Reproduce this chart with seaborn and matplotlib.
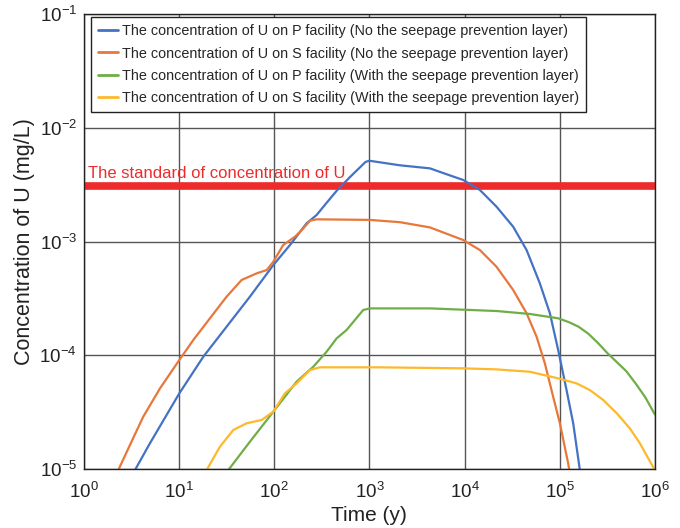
import numpy as np
import pandas as pd
import seaborn as sns
import matplotlib.pyplot as plt
from matplotlib.ticker import LogLocator, LogFormatterMathtext, NullLocator

# values, as log10(time in y) and log10(concentration in mg/L)
p_no_logt = [0.45, 0.536, 0.693, 1.002, 1.254, 1.499, 1.744, 1.990, 2.165, 2.340, 2.445, 2.55, 2.66,
             2.80, 2.96, 3.00, 3.32, 3.636, 3.85, 3.986, 4.161, 4.336, 4.511, 4.652, 4.791, 4.897,
             4.984, 5.072, 5.142, 5.212, 5.25]
p_no_logc = [-5.16, -5.009, -4.774, -4.335, -4.013, -3.749, -3.485, -3.207, -3.031, -2.840, -2.767, -2.66, -2.55,
             -2.43, -2.30, -2.29, -2.33, -2.357, -2.42, -2.459, -2.547, -2.694, -2.870, -3.075, -3.367, -3.631,
             -3.954, -4.306, -4.598, -5.009, -5.25]

s_no_logt = [0.30, 0.361, 0.483, 0.623, 0.799, 1.002, 1.149, 1.324, 1.499, 1.657, 1.815, 1.920, 1.990,
             2.094, 2.217, 2.30, 2.375, 2.445, 3.00, 3.32, 3.636, 3.986, 4.161, 4.336, 4.511, 4.652,
             4.757, 4.844, 4.931, 5.002, 5.089, 5.13]
s_no_logc = [-5.11, -5.009, -4.789, -4.540, -4.291, -4.042, -3.866, -3.675, -3.485, -3.338, -3.280, -3.251, -3.178,
             -3.031, -2.958, -2.89, -2.817, -2.805, -2.81, -2.83, -2.876, -2.987, -3.075, -3.222, -3.426, -3.631,
             -3.837, -4.071, -4.364, -4.598, -4.951, -5.15]

p_with_logt = [1.45, 1.517, 1.744, 1.990, 2.235, 2.410, 2.550, 2.655, 2.760, 2.935, 3.005,
               3.636, 4.336, 4.686, 4.984, 5.10, 5.20, 5.30, 5.40, 5.50, 5.60, 5.70, 5.80, 5.90, 6.00]
p_with_logc = [-5.10, -5.009, -4.760, -4.496, -4.232, -4.101, -3.969, -3.852, -3.778, -3.602, -3.588,
               -3.588, -3.611, -3.637, -3.675, -3.71, -3.75, -3.81, -3.89, -3.98, -4.06, -4.14, -4.25, -4.37, -4.52]

s_with_logt = [1.20, 1.289, 1.429, 1.569, 1.709, 1.867, 1.990, 2.112, 2.235, 2.375, 2.480,
               3.11, 3.986, 4.336, 4.686, 4.984, 5.177, 5.317, 5.457, 5.60, 5.737, 5.84, 5.98, 6.02]
s_with_logc = [-5.12, -5.009, -4.804, -4.657, -4.598, -4.569, -4.496, -4.335, -4.247, -4.130, -4.106,
               -4.106, -4.115, -4.124, -4.145, -4.203, -4.247, -4.306, -4.393, -4.51, -4.643, -4.77, -4.98, -5.05]

standard_u = 3.08e-3

labels = [
    'The concentration of U on P facility (No the seepage prevention layer)',
    'The concentration of U on S facility (No the seepage prevention layer)',
    'The concentration of U on P facility (With the seepage prevention layer)',
    'The concentration of U on S facility (With the seepage prevention layer)',
]
colors = ['#4472C4', '#E8773A', '#70AD47', '#FDB92C']

frames = []
for lab, lt, lc in zip(labels,
                       [p_no_logt, s_no_logt, p_with_logt, s_with_logt],
                       [p_no_logc, s_no_logc, p_with_logc, s_with_logc]):
    frames.append(pd.DataFrame({'Time': 10 ** np.array(lt),
                                'Conc': 10 ** np.array(lc),
                                'Series': lab}))
df = pd.concat(frames, ignore_index=True)

sns.set_style('white')
plt.rcParams['font.family'] = ['Liberation Sans', 'DejaVu Sans']
plt.rcParams['mathtext.fontset'] = 'custom'
plt.rcParams['mathtext.rm'] = 'Liberation Sans'
plt.rcParams['mathtext.it'] = 'Liberation Sans:italic'

fig = plt.figure(figsize=(6.8, 5.28), dpi=100)
ax = fig.add_axes([0.1235, 0.1117, 0.8395, 0.8618])

ax.set_xscale('log')
ax.set_yscale('log')

sns.lineplot(data=df, x='Time', y='Conc', hue='Series', hue_order=labels,
             palette=colors, sort=False, estimator=None, linewidth=1.6, ax=ax)

ax.axhline(standard_u, color='#EE2B2B', linewidth=5.5, zorder=1)
ax.text(1.1, 3.6e-3, 'The standard of concentration of U',
        color='#EE2B2B', fontsize=12, va='baseline', ha='left')

ax.set_xlim(1, 1e6)
ax.set_ylim(1e-5, 1e-1)
ax.xaxis.set_major_locator(LogLocator(base=10, numticks=10))
ax.yaxis.set_major_locator(LogLocator(base=10, numticks=10))
ax.xaxis.set_minor_locator(NullLocator())
ax.yaxis.set_minor_locator(NullLocator())
ax.xaxis.set_major_formatter(LogFormatterMathtext())
ax.yaxis.set_major_formatter(LogFormatterMathtext())
ax.tick_params(axis='both', length=0, labelsize=13.5, colors='#222222')
ax.tick_params(axis='x', pad=9)
ax.tick_params(axis='y', pad=5)

ax.grid(True, which='major', color='#555555', linewidth=1.0)
for sp in ax.spines.values():
    sp.set_color('#222222')
    sp.set_linewidth(1.0)

ax.set_xlabel('Time (y)', fontsize=15, color='#222222', labelpad=3)
ax.set_ylabel('Concentration of U (mg/L)', fontsize=15.5, color='#222222', labelpad=3)

leg = ax.legend(loc='upper left', bbox_to_anchor=(7 / 571, 1 - 3 / 455), borderaxespad=0,
                fontsize=10.35, frameon=True, fancybox=False,
                edgecolor='#222222', framealpha=1, handlelength=1.4, handletextpad=0.25,
                labelspacing=0.58, borderpad=0.5)
leg.get_frame().set_linewidth(1.0)
for line in leg.get_lines():
    line.set_linewidth(2.0)

fig.savefig('out.png', dpi=100)
